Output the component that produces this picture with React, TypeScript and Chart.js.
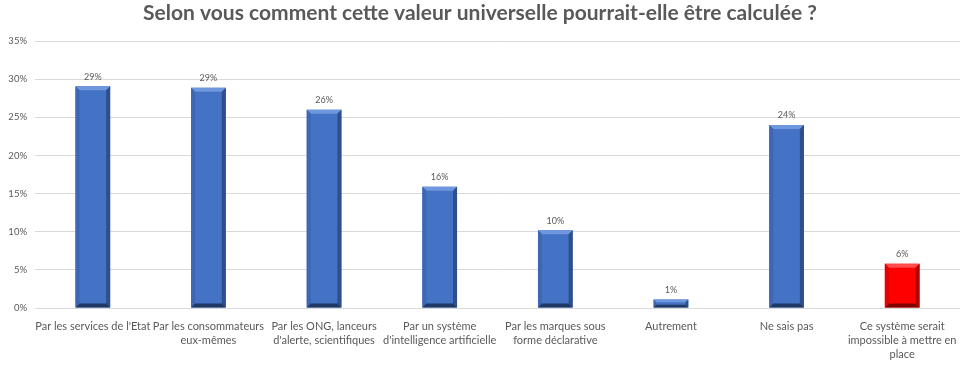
import React, { useEffect, useRef } from "react";
import { Chart, registerables } from "chart.js";

Chart.register(...registerables);

const TITLE = "Selon vous comment cette valeur universelle pourrait-elle être calculée ?";
const categories: (string | string[])[] = [
  "Par les services de l'Etat",
  ["Par les consommateurs", "eux-mêmes"],
  ["Par les ONG, lanceurs", "d'alerte, scientifiques"],
  ["Par un système", "d'intelligence artificielle"],
  ["Par les marques sous", "forme déclarative"],
  "Autrement",
  "Ne sais pas",
  ["Ce système serait", "impossible à mettre en", "place"],
];
const values = [29.1, 28.9, 26, 15.9, 10.2, 1.1, 24, 5.8];
const valueLabels = ["29%", "29%", "26%", "16%", "10%", "1%", "24%", "6%"];
const barColors = ["#4472C4", "#4472C4", "#4472C4", "#4472C4", "#4472C4", "#4472C4", "#4472C4", "#FF0000"];
const yTicks = [0, 5, 10, 15, 20, 25, 30, 35];

const FONT = "Lato, 'Liberation Sans', sans-serif";

const shades: Record<string, { light: string; left: string; right: string; bottom: string }> = {
  "#4472C4": { light: "#6E97DE", left: "#3D67B3", right: "#2E4F8C", bottom: "#1F3864" },
  "#FF0000": { light: "#FF4D4D", left: "#E60000", right: "#B30000", bottom: "#800000" },
};

const bevelPlugin = {
  id: "bevel",
  afterDatasetsDraw(chart: any) {
    const ctx = chart.ctx;
    const meta = chart.getDatasetMeta(0);
    meta.data.forEach((bar: any, i: number) => {
      const { x, y, base, width } = bar.getProps(["x", "y", "base", "width"], true);
      const l = x - width / 2;
      const r = x + width / 2;
      const t = y;
      const b = base;
      const h = b - t;
      const d = Math.min(4, h / 3);
      const s = shades[barColors[i]];
      ctx.save();
      ctx.fillStyle = s.light;
      ctx.beginPath();
      ctx.moveTo(l, t); ctx.lineTo(r, t); ctx.lineTo(r - d, t + d); ctx.lineTo(l + d, t + d); ctx.closePath(); ctx.fill();
      ctx.fillStyle = s.left;
      ctx.beginPath();
      ctx.moveTo(l, t); ctx.lineTo(l + d, t + d); ctx.lineTo(l + d, b - d); ctx.lineTo(l, b); ctx.closePath(); ctx.fill();
      ctx.fillStyle = s.right;
      ctx.beginPath();
      ctx.moveTo(r, t); ctx.lineTo(r - d, t + d); ctx.lineTo(r - d, b - d); ctx.lineTo(r, b); ctx.closePath(); ctx.fill();
      ctx.fillStyle = s.bottom;
      ctx.beginPath();
      ctx.moveTo(l, b); ctx.lineTo(l + d, b - d); ctx.lineTo(r - d, b - d); ctx.lineTo(r, b); ctx.closePath(); ctx.fill();
      ctx.fillStyle = "#595959";
      ctx.font = `9px ${FONT}`;
      ctx.textAlign = "center";
      ctx.textBaseline = "bottom";
      ctx.fillText(valueLabels[i], x, t - 5);
      ctx.restore();
    });
  },
};

export default function App() {
  const ref = useRef<HTMLCanvasElement>(null);
  useEffect(() => {
    if (!ref.current) return;
    const chart = new Chart(ref.current, {
      type: "bar",
      data: {
        labels: categories,
        datasets: [
          {
            data: values,
            backgroundColor: barColors,
            barPercentage: 0.3,
            categoryPercentage: 1,
          },
        ],
      },
      options: {
        animation: false,
        responsive: false,
        layout: { padding: { left: 0, right: 7, top: 0, bottom: 0 } },
        plugins: {
          legend: { display: false },
          tooltip: { enabled: false },
          title: {
            display: true,
            text: TITLE,
            color: "#595959",
            font: { family: FONT, size: 21, weight: "bold" },
            padding: { top: 1, bottom: 15 },
          },
        },
        scales: {
          x: {
            grid: { display: false },
            border: { display: false },
            ticks: {
              color: "#595959",
              font: { family: FONT, size: 11, lineHeight: 1.3 },
              maxRotation: 0,
              minRotation: 0,
              autoSkip: false,
              padding: 3,
            },
            afterFit: (s: any) => { s.height = 57; },
          },
          y: {
            min: 0,
            max: 35,
            border: { display: false },
            grid: { color: "#D9D9D9", drawTicks: false },
            afterBuildTicks: (s: any) => { s.ticks = yTicks.map((v) => ({ value: v })); },
            ticks: {
              color: "#595959",
              font: { family: FONT, size: 9.5 },
              padding: 8,
              callback: (v: any) => `${v}%`,
            },
            afterFit: (s: any) => { s.width = 35; },
          },
        },
      },
      plugins: [bevelPlugin],
    });
    return () => chart.destroy();
  }, []);
  return (
    <div style={{ position: "fixed", left: 0, top: 0, width: 967, height: 365, background: "#fff" }}>
      <canvas ref={ref} width={967} height={365} />
    </div>
  );
}
